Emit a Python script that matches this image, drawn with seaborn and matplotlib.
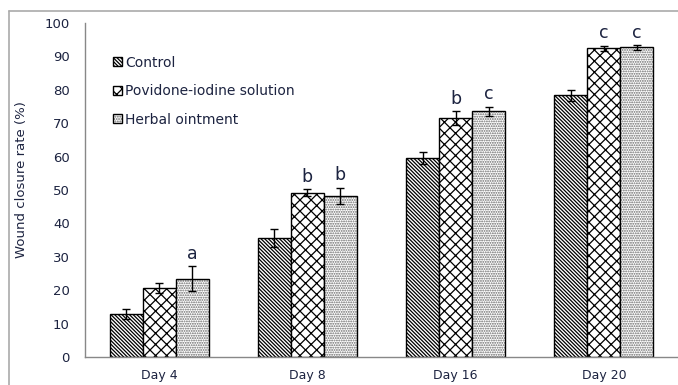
import pandas as pd
import matplotlib.pyplot as plt
import matplotlib.lines as mlines
import matplotlib.colors as mcolors
import seaborn as sns

# Data
days = ["Day 4", "Day 8", "Day 16", "Day 20"]
groups = ["Control", "Povidone-iodine solution", "Herbal ointment"]
control = [13.0, 35.6, 59.5, 78.3]
povidone = [20.7, 49.2, 71.6, 92.4]
herbal = [23.4, 48.3, 73.6, 92.7]
control_err = [1.5, 2.7, 1.8, 1.7]
povidone_err = [1.5, 1.0, 2.1, 0.8]
herbal_err = [3.7, 2.4, 1.4, 0.7]
letters_pov = ["", "b", "b", "c"]
letters_herb = ["a", "b", "c", "c"]

df = pd.DataFrame({
    "Day": days * 3,
    "Group": [g for g in groups for _ in days],
    "Rate": control + povidone + herbal,
    "Err": control_err + povidone_err + herbal_err,
    "Letter": [""] * 4 + letters_pov + letters_herb,
})

sns.set_style("white")
plt.rcParams["font.family"] = ["DejaVu Sans"]
plt.rcParams["hatch.linewidth"] = 0.9
text_col = "#1c2340"

fig = plt.figure(figsize=(6.78, 3.85), dpi=100)
ax = fig.add_axes([0.1254, 0.0727, 0.8746, 0.8675])

sns.barplot(data=df, x="Day", y="Rate", hue="Group", order=days, hue_order=groups,
            palette=["white"] * 3, edgecolor="black", linewidth=1.0,
            width=0.667, errorbar=None, ax=ax, legend=True)

hatches = ["\\" * 9, "xxx", "." * 7]
hatch_cols = ["black", "black", "#666666"]
bar_conts = list(ax.containers)
for i, cont in enumerate(bar_conts):
    sub = df[df["Group"] == groups[i]]
    for bar, (_, row) in zip(cont, sub.iterrows()):
        bar.set_hatch(hatches[i])
        bar.set_edgecolor("black")
        bar._hatch_color = mcolors.to_rgba(hatch_cols[i])
        cx = bar.get_x() + bar.get_width() / 2
        ax.errorbar(cx, row["Rate"], yerr=row["Err"], fmt="none", ecolor="black",
                    elinewidth=1.0, capsize=3, capthick=1.0, zorder=5)
        if row["Letter"]:
            ax.text(cx, row["Rate"] + row["Err"] + 1.0, row["Letter"], ha="center",
                    va="bottom", fontsize=12.5, color=text_col)

ax.set_ylim(0, 100)
ax.set_xlim(-0.5, 3.5)
ax.set_yticks(range(0, 101, 10))
ax.set_xticks([0.5, 1.5, 2.5])
ax.set_xticklabels([])
ax.set_xticks(range(4), minor=True)
ax.set_xticklabels(days, minor=True)
ax.tick_params(axis="x", which="minor", length=0, pad=8.5, labelsize=9, labelcolor=text_col)
ax.tick_params(axis="x", which="major", length=5, color="#888888", direction="out")
ax.tick_params(axis="y", length=5, color="#888888", direction="out", labelsize=9.5,
               labelcolor=text_col, pad=6)
ax.set_xlabel("")
ax.set_ylabel("Wound closure rate (%)", fontsize=9.5, color=text_col)
ax.yaxis.set_label_coords(-0.097, 0.53)
for s in ["top", "right"]:
    ax.spines[s].set_visible(False)
for s in ["left", "bottom"]:
    ax.spines[s].set_color("#888888")
    ax.spines[s].set_linewidth(1.0)

handles, labels = ax.get_legend_handles_labels()
for h, ht, hc in zip(handles, hatches, hatch_cols):
    h.set_hatch(ht)
    h._hatch_color = mcolors.to_rgba(hc)
leg = ax.legend(handles, labels, loc="upper left", bbox_to_anchor=(0.026, 0.94),
                frameon=False, fontsize=10, handlelength=0.65, handleheight=0.65,
                handletextpad=0.25, labelspacing=1.05, labelcolor=text_col)

# outer chart frame (left and top edges visible)
fig.add_artist(mlines.Line2D([0.0135, 0.0135], [0, 0.972], color="#aaaaaa", lw=1.2))
fig.add_artist(mlines.Line2D([0.0135, 1.0], [0.972, 0.972], color="#aaaaaa", lw=1.2))

fig.savefig("out.png", dpi=100)
